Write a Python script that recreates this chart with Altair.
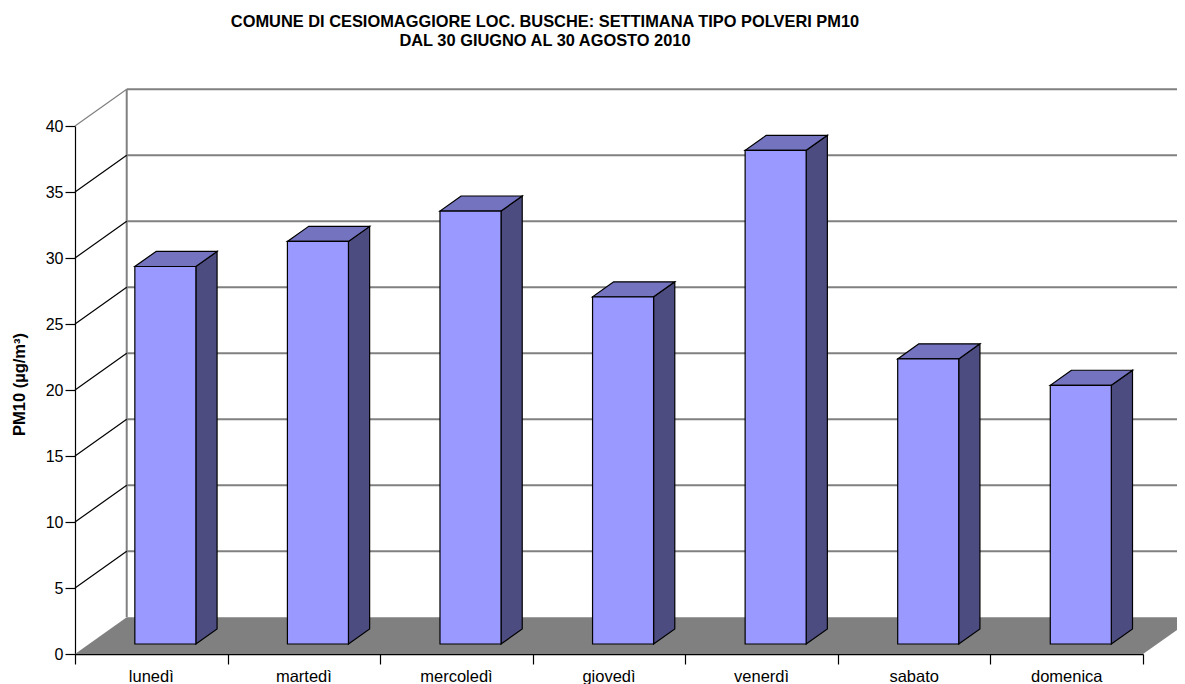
import altair as alt
import pandas as pd

# ---------------- data ----------------
days = ["lunedì", "martedì", "mercoledì", "giovedì", "venerdì", "sabato", "domenica"]
pm10 = [28.6, 30.5, 32.8, 26.3, 37.4, 21.6, 19.6]
y_ticks = [0, 5, 10, 15, 20, 25, 30, 35, 40]
title_lines = [
    "COMUNE DI CESIOMAGGIORE LOC. BUSCHE: SETTIMANA TIPO POLVERI PM10",
    "DAL 30 GIUGNO AL 30 AGOSTO 2010",
]
y_title = "PM10 (µg/m³)"

# ---------------- 3D geometry (style constants) ----------------
N = len(days)
YMAX = y_ticks[-1]
DX = 0.339   # full depth shift along x (category units)
DV = 2.78    # full depth shift along y (value units)
D0, D1 = 0.272, 0.682   # bar front / back depth
BL, BR = 0.30, 0.70     # bar left/right inside category

FONT = "Liberation Sans"
FRONT = "#9999FF"
SIDE = "#4C4C80"
TOP = "#7373BF"
GREY = "#808080"

xs = alt.Scale(domain=[0, N], nice=False, zero=False)
ys = alt.Scale(domain=[0, YMAX], nice=False, zero=False)

AY = alt.Axis(values=y_ticks, grid=False, format="d", domainColor="black",
              domainWidth=1.2, tickColor="black", tickSize=10, tickWidth=1.2,
              labelFont=FONT, labelFontSize=16, labelColor="black",
              labelPadding=2, labelFlush=False, labelOverlap=False,
              title=y_title, titleFont=FONT, titleFontSize=16.5,
              titleFontWeight="bold", titleColor="black",
              titleX=-56, titleY=258, titleAngle=270,
              titleBaseline="middle", titleAlign="center")
AX = alt.Axis(values=list(range(N + 1)), grid=False, domainColor="black",
              domainWidth=1.5, tickColor="black", tickSize=10, tickWidth=1.2,
              labels=False, title="")


def X(field, **kw):
    return alt.X(field, type="quantitative", scale=xs, axis=AX, **kw)


def Y(field, **kw):
    return alt.Y(field, type="quantitative", scale=ys, axis=AY, **kw)


# floor
floor_df = pd.DataFrame({"y": [0, DV], "x": [0, DX], "x2": [N, N + DX]})
floor = alt.Chart(floor_df).mark_area(orient="horizontal", color=GREY, opacity=1).encode(
    y=Y("y", stack=None), x=X("x", stack=None), x2="x2:Q",
)

# category labels
lab_df = pd.DataFrame({"day": days, "x": [i + 0.5 for i in range(N)], "y": [0] * N})
labels = alt.Chart(lab_df).mark_text(
    font=FONT, fontSize=16.5, color="black", align="center", baseline="top", dy=15).encode(
    x=X("x"), y=Y("y"), text="day:N",
)

# back wall gridlines
grid_df = pd.DataFrame({"y": [k + DV for k in y_ticks[1:]],
                        "x": [DX] * (len(y_ticks) - 1),
                        "x2": [N + DX] * (len(y_ticks) - 1)})
grid = alt.Chart(grid_df).mark_rule(color=GREY, strokeWidth=2).encode(
    x=X("x"), x2="x2:Q", y=Y("y"),
)

# back-left vertical edge
edge_df = pd.DataFrame({"x": [DX], "y": [DV], "y2": [YMAX + DV]})
edge = alt.Chart(edge_df).mark_rule(color=GREY, strokeWidth=2).encode(
    x=X("x"), y=Y("y"), y2="y2:Q",
)

# side wall diagonals
diag_df = pd.DataFrame({"x": [0.0] * (len(y_ticks) - 1),
                        "x2": [DX] * (len(y_ticks) - 1),
                        "y": y_ticks[1:],
                        "y2": [k + DV for k in y_ticks[1:]],
                        "top": [str(k == YMAX) for k in y_ticks[1:]]})
diag = alt.Chart(diag_df).mark_rule(strokeWidth=1.2).encode(
    x=X("x"), x2="x2:Q", y=Y("y"), y2="y2:Q",
    color=alt.Color("top:N", scale=alt.Scale(domain=["False", "True"], range=["black", GREY]),
                    legend=None),
)

# bars
front_rows, side_rows, top_rows = [], [], []
for i, (d, v) in enumerate(zip(days, pm10)):
    xl0, xr0 = i + BL + D0 * DX, i + BR + D0 * DX
    xl1, xr1 = i + BL + D1 * DX, i + BR + D1 * DX
    front_rows.append({"day": d, "x": xl0, "x2": xr0, "y": D0 * DV, "y2": v + D0 * DV})
    side_rows.append({"day": d, "x": xr0, "y": D0 * DV, "y2": v + D0 * DV})
    side_rows.append({"day": d, "x": xr1, "y": D1 * DV, "y2": v + D1 * DV})
    top_rows.append({"day": d, "y": v + D0 * DV, "x": xl0, "x2": xr0})
    top_rows.append({"day": d, "y": v + D1 * DV, "x": xl1, "x2": xr1})

side = alt.Chart(pd.DataFrame(side_rows)).mark_area(
    orient="vertical", fill=SIDE, stroke="black", strokeWidth=1.2, opacity=1,
    fillOpacity=1, strokeJoin="miter").encode(
    x=X("x"), y=Y("y", stack=None), y2="y2:Q", detail="day:N",
)
top = alt.Chart(pd.DataFrame(top_rows)).mark_area(
    orient="horizontal", fill=TOP, stroke="black", strokeWidth=1.2, opacity=1,
    fillOpacity=1, strokeJoin="miter").encode(
    y=Y("y"), x=X("x", stack=None), x2="x2:Q", detail="day:N",
)
front = alt.Chart(pd.DataFrame(front_rows)).mark_rect(
    fill=FRONT, stroke="black", strokeWidth=1.2).encode(
    x=X("x"), x2="x2:Q", y=Y("y"), y2="y2:Q",
)

# chart title lines
t1 = alt.Chart(pd.DataFrame({"t": [title_lines[0]]})).mark_text(
    font=FONT, fontSize=16.4, fontWeight="bold", color="black", align="center",
    baseline="alphabetic").encode(text="t:N", x=alt.value(470), y=alt.value(-99))
t2 = alt.Chart(pd.DataFrame({"t": [title_lines[1]]})).mark_text(
    font=FONT, fontSize=16.4, fontWeight="bold", color="black", align="center",
    baseline="alphabetic").encode(text="t:N", x=alt.value(470), y=alt.value(-80))

chart = alt.layer(floor, grid, edge, diag, side, top, front, labels, t1, t2).properties(
    width=1068, height=528,
    autosize=alt.AutoSizeParams(type="none"),
    padding={"left": 67, "top": 118, "right": 34, "bottom": 30},
).configure_view(stroke=None)

chart.save("out.html", embed_options={"renderer": "svg", "actions": False})
